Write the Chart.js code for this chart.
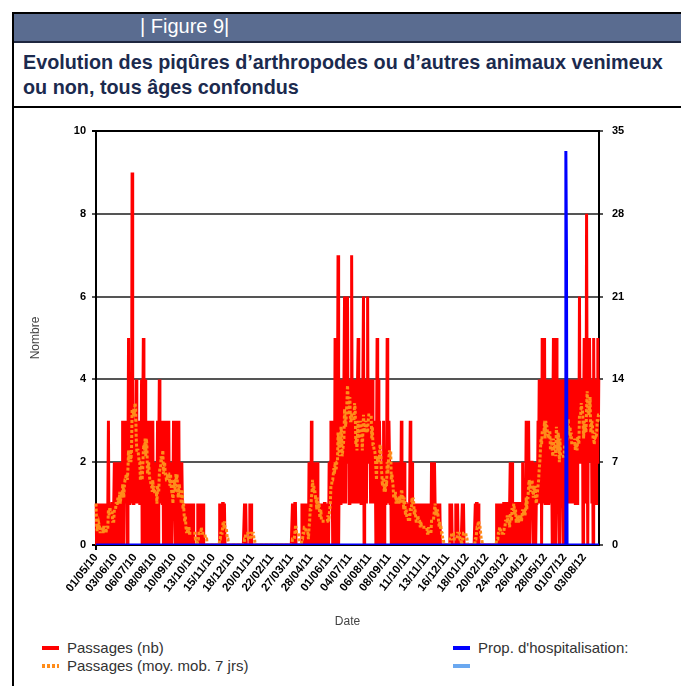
<!DOCTYPE html>
<html lang="fr">
<head>
<meta charset="utf-8">
<title>Figure 9</title>
<script src="https://cdn.jsdelivr.net/npm/chart.js@4.4.1/dist/chart.umd.min.js"></script>
<style>
    html, body { margin: 0; padding: 0; background: #fff; }
    body {
        width: 681px; height: 686px; overflow: hidden; position: relative;
        font-family: "Liberation Sans", Arial, sans-serif;
    }
    .frame-left { position: absolute; left: 12px; top: 12px; width: 2px; height: 674px; background: #000; }
    .bar {
        position: absolute; left: 12px; top: 12px; width: 669px; height: 27px;
        background: #5a6c90; border-top: 2px solid #000; border-bottom: 2px solid #1e2740;
    }
    .bar span { position: absolute; left: 128px; top: 1px; color: #fff; font-size: 20px; }
    .title {
        position: absolute; left: 23px; top: 50px; font-weight: bold; font-size: 19.8px;
        line-height: 25px; color: #1b2a4e;
    }
    .rule { position: absolute; left: 12px; top: 106px; width: 669px; height: 2px; background: #000; }
    .chart-box { position: absolute; left: 14px; top: 112px; width: 667px; height: 520px; }
    .legend-item { position: absolute; font-size: 15px; color: #333; white-space: nowrap; line-height: 18px; }
    .legend-item i { position: absolute; left: -25px; top: 7px; width: 17px; height: 4px; }
</style>
</head>
<body>
<div class="bar"><span>| Figure 9|</span></div>
<div class="frame-left"></div>
<div class="title">Evolution des piqûres d’arthropodes ou d’autres animaux venimeux<br>ou non, tous âges confondus</div>
<div class="rule"></div>
<div class="chart-box"><canvas id="chart"></canvas></div>
<div id="legend"></div>

<script>
// Tick labels shown on the date axis (one every 33 days)
const tickLabels = ['01/05/10', '03/06/10', '06/07/10', '08/08/10', '10/09/10', '13/10/10', '15/11/10',
    '18/12/10', '20/01/11', '22/02/11', '27/03/11', '28/04/11', '01/06/11', '04/07/11', '06/08/11',
    '08/09/11', '11/10/11', '13/11/11', '16/12/11', '18/01/12', '20/02/12', '24/03/12', '26/04/12',
    '28/05/12', '01/07/12', '03/08/12'];

// Daily passages (nb), one line per 33 days
const passages = [
    1,0,0,1,0,1,0,0,1,0,1,0,0,1,0,1,0,0,1,0,1,3,0,1,0,1,0,1,1,0,1,2,1,
    0,2,1,0,2,1,1,2,0,2,1,1,3,1,0,2,3,1,2,3,0,2,5,1,2,3,1,2,9,4,1,3,2,
    3,1,4,2,1,3,1,2,1,1,2,4,0,3,5,2,0,4,1,3,2,0,3,1,2,0,3,1,0,2,3,0,1,
    2,1,0,2,1,3,0,2,4,1,2,3,2,1,3,0,2,3,1,2,0,3,1,2,3,0,1,2,1,0,2,1,3,
    2,1,0,3,1,2,0,1,3,0,2,1,0,2,1,0,1,0,0,1,0,0,1,0,0,1,0,0,0,1,0,0,1,
    0,0,0,0,0,0,0,1,0,1,0,0,0,1,0,0,1,0,0,0,0,0,0,0,0,0,0,0,0,0,0,0,0,
    0,0,0,0,0,0,0,0,0,0,0,1,0,1,0,0,1,1,0,1,0,0,0,0,0,0,0,0,0,0,0,0,0,
    0,0,0,0,0,0,0,0,0,0,0,0,0,0,0,0,0,0,0,0,1,0,1,0,0,0,0,0,0,1,0,1,0,
    0,0,0,0,0,0,0,0,0,0,0,0,0,0,0,0,0,0,0,0,0,0,0,0,0,0,0,0,0,0,0,0,0,
    0,0,0,0,0,0,0,0,0,0,0,0,0,0,0,0,0,0,0,0,0,0,0,0,0,0,0,0,0,0,0,0,0,
    0,0,1,0,0,0,1,1,0,0,0,0,0,0,0,0,0,0,1,0,1,0,1,0,0,0,0,1,0,0,2,1,2,
    0,3,1,2,0,2,1,0,2,1,0,2,1,0,1,0,1,1,0,1,0,1,0,1,1,0,1,0,1,1,0,2,1,
    2,3,1,2,0,3,2,1,5,0,2,1,3,7,0,2,3,1,4,2,3,1,3,4,6,2,1,5,3,6,2,4,1,
    4,1,3,7,2,4,1,3,4,2,1,3,2,4,5,1,3,2,4,1,3,2,4,6,0,3,2,4,1,3,6,2,4,
    2,4,1,3,2,4,1,2,3,1,2,0,2,5,1,4,0,3,2,1,2,0,2,1,3,0,2,1,2,1,5,1,2,
    3,2,1,2,0,2,1,2,0,1,2,1,0,2,1,0,2,1,2,0,1,3,0,1,1,0,2,0,1,1,0,1,0,
    1,0,1,3,0,1,2,0,1,0,1,1,0,1,0,1,1,0,1,0,0,1,0,1,0,1,0,0,1,0,1,0,0,
    0,1,0,0,1,0,2,0,1,0,1,2,1,0,1,0,1,0,1,0,1,0,0,0,0,0,0,0,0,0,0,0,0,
    0,0,0,0,1,0,0,1,0,0,0,0,0,0,1,0,0,1,0,0,0,0,0,0,0,1,0,1,0,0,0,0,0,
    0,0,0,0,0,0,0,0,0,0,0,0,0,0,1,0,1,1,0,1,0,0,0,0,0,0,0,0,0,0,0,0,0,
    0,0,0,0,0,0,0,0,0,0,0,0,0,0,0,0,0,1,0,0,1,0,1,0,0,0,0,1,0,1,1,0,1,
    0,1,1,0,1,0,0,2,1,0,2,1,0,1,1,0,1,0,1,1,0,1,1,0,1,1,0,1,2,0,1,1,0,
    1,3,0,2,1,3,1,0,2,1,2,2,1,0,2,1,2,0,1,2,1,3,2,4,1,3,4,0,5,2,4,1,5,
    1,3,4,2,3,1,4,2,3,1,4,2,0,3,5,1,2,4,0,5,1,3,4,1,0,4,2,1,3,4,1,0,4,
    4,1,3,4,2,3,4,2,1,4,2,3,1,4,2,1,4,3,1,2,4,1,3,4,2,6,2,4,3,2,4,0,3,
    5,2,4,1,8,3,0,4,2,5,3,2,4,1,3,0,5,2,4,3,1,4,2,5,3,4
];

// Proportion d'hospitalisation (%): zero every day except these
const hospDates = ['03/07/12', '04/07/12'];
const hospValues = [33.3, 25];

const seriesNames = ['Passages (nb)', 'Passages (moy. mob. 7 jrs)', "Prop. d'hospitalisation:", ''];
const seriesColors = ['#ff0000', '#ff8c1a', '#0000ff', '#6aa8f0'];

// Daily categories starting 01/05/2010
const pad = n => String(n).padStart(2, '0');
const dayLabels = passages.map((v, i) => {
    const d = new Date(2010, 4, 1 + i);
    return pad(d.getDate()) + '/' + pad(d.getMonth() + 1) + '/' + String(d.getFullYear()).slice(2);
});

// 7-day moving average of the daily passages
const movingAvg = passages.map((v, i) => {
    const win = passages.slice(Math.max(0, i - 6), i + 1);
    return win.reduce((a, b) => a + b, 0) / win.length;
});

const hospProp = dayLabels.map(lbl => {
    const k = hospDates.indexOf(lbl);
    return k >= 0 ? hospValues[k] : 0;
});

Chart.defaults.font.family = '"Liberation Sans", Arial, sans-serif';

const axisFont = { size: 11, weight: 'bold' };

new Chart(document.getElementById('chart').getContext('2d'), {
    type: 'line',
    data: {
        labels: dayLabels,
        datasets: [
            { label: seriesNames[0], data: passages, borderColor: seriesColors[0], borderWidth: 3, order: 3, yAxisID: 'y' },
            { label: seriesNames[1], data: movingAvg, borderColor: seriesColors[1], borderWidth: 3, borderDash: [3, 2], order: 2, yAxisID: 'y' },
            { label: seriesNames[2], data: hospProp, borderColor: seriesColors[2], borderWidth: 3, order: 1, yAxisID: 'y1' },
            { label: seriesNames[3], data: [], borderColor: seriesColors[3], borderWidth: 3, order: 0, yAxisID: 'y1' }
        ]
    },
    options: {
        responsive: true,
        maintainAspectRatio: false,
        animation: false,
        elements: { point: { radius: 0 }, line: { tension: 0 } },
        layout: { padding: { top: 19, right: 0, bottom: 0, left: 0 } },
        scales: {
            x: {
                ticks: {
                    autoSkip: false,
                    maxRotation: 52,
                    minRotation: 52,
                    padding: 1,
                    color: '#000',
                    font: { size: 11.5, weight: 'bold' },
                    callback: (value, index) => index % 33 === 0 ? tickLabels[index / 33] : null
                },
                grid: {
                    drawOnChartArea: false,
                    tickLength: 5,
                    lineWidth: 2,
                    color: c => c.index % 33 === 0 ? '#000' : 'rgba(0,0,0,0)'
                },
                border: { color: '#000', width: 2 },
                title: { display: true, text: 'Date', color: '#444', font: { size: 12 }, padding: { top: 0, bottom: 3 } },
                afterFit: s => { s.height = 87; }
            },
            y: {
                position: 'left',
                min: 0,
                max: 10,
                ticks: { stepSize: 2, color: '#000', font: axisFont, padding: 6 },
                grid: {
                    lineWidth: 2,
                    tickLength: 4,
                    color: c => (c.tick && (c.tick.value === 10 || c.tick.value === 0)) ? '#000' : '#555'
                },
                border: { color: '#000', width: 2 },
                title: { display: true, text: 'Nombre', color: '#444', font: { size: 12 }, padding: { top: 14, bottom: 0 } },
                afterFit: s => { s.width = 82; }
            },
            y1: {
                position: 'right',
                min: 0,
                max: 35,
                ticks: { stepSize: 7, color: '#000', font: axisFont, padding: 9 },
                grid: { drawOnChartArea: false, tickLength: 4, lineWidth: 2, color: '#555' },
                border: { color: '#000', width: 2 },
                afterFit: s => { s.width = 82; }
            }
        },
        plugins: {
            legend: { display: false },
            tooltip: { enabled: false }
        }
    }
});

// Legend in two columns under the chart
const legend = document.getElementById('legend');
seriesNames.forEach((name, i) => {
    const item = document.createElement('div');
    item.className = 'legend-item';
    item.style.left = (i < 2 ? 67 : 478) + 'px';
    item.style.top = (i % 2 === 0 ? 639 : 657) + 'px';
    const sw = document.createElement('i');
    sw.style.background = i === 1
        ? 'repeating-linear-gradient(90deg, ' + seriesColors[i] + ' 0 3px, transparent 3px 5px)'
        : seriesColors[i];
    item.appendChild(sw);
    item.appendChild(document.createTextNode(name));
    legend.appendChild(item);
});
</script>
</body>
</html>
